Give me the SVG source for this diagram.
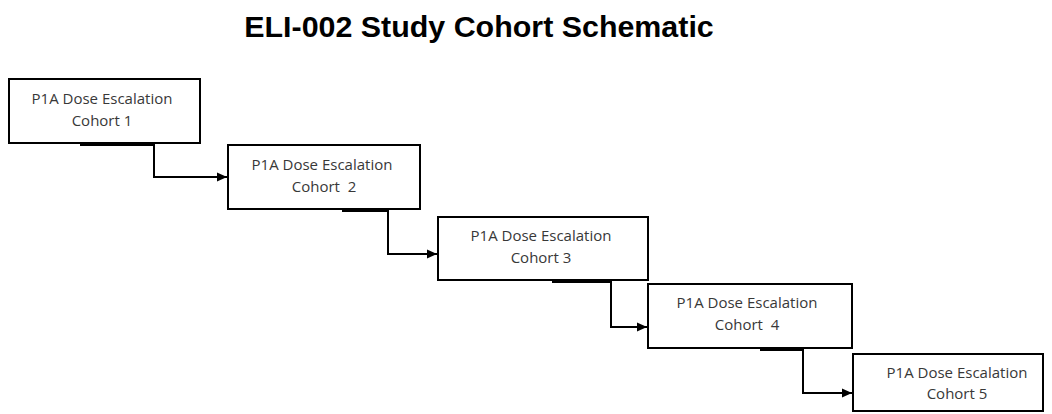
<svg xmlns="http://www.w3.org/2000/svg" width="1052" height="414" viewBox="0 0 1052 414">
  <style>
    .title { font-family: "Liberation Sans", Arial, sans-serif; font-weight: bold; font-size: 30.4px; fill: #000; }
    .box { fill: #fff; stroke: #000; stroke-width: 2; }
    .label { font-family: "Open Sans", "Noto Sans", sans-serif; font-size: 15px; fill: #383838; text-anchor: middle; }
    .conn { fill: none; stroke: #000; stroke-width: 2; }
    .stub { fill: none; stroke: #000; stroke-width: 4; }
  </style>
  <defs>
    <marker id="arrow" markerWidth="11" markerHeight="11" refX="10" refY="5.5" orient="auto" markerUnits="userSpaceOnUse">
      <path d="M0,1 L10,5.5 L0,10 Z" fill="#000"/>
    </marker>
  </defs>
  <rect width="1052" height="414" fill="#fff"/>
  <text class="title" x="479" y="37" text-anchor="middle">ELI-002 Study Cohort Schematic</text>

  <g id="connectors">
    <path class="conn" d="M154,143 V177 H227" marker-end="url(#arrow)"/>
    <path class="conn" d="M388,209 V254 H437" marker-end="url(#arrow)"/>
    <path class="conn" d="M611,280 V327 H647" marker-end="url(#arrow)"/>
    <path class="conn" d="M803,348 V393 H852" marker-end="url(#arrow)"/>
  </g>

  <g id="cohort1">
    <rect class="box" x="9" y="79" width="191" height="64"/>
    <line class="stub" x1="80" y1="144" x2="155" y2="144"/>
    <text class="label" x="102" y="104">P1A Dose Escalation</text>
    <text class="label" x="102" y="126">Cohort 1</text>
  </g>
  <g id="cohort2">
    <rect class="box" x="228" y="145" width="192" height="64"/>
    <line class="stub" x1="342" y1="210" x2="389" y2="210"/>
    <text class="label" x="322" y="170">P1A Dose Escalation</text>
    <text class="label" x="324" y="192" xml:space="preserve">Cohort  2</text>
  </g>
  <g id="cohort3">
    <rect class="box" x="438" y="217" width="210" height="63"/>
    <line class="stub" x1="552" y1="281" x2="612" y2="281"/>
    <text class="label" x="541" y="241">P1A Dose Escalation</text>
    <text class="label" x="541" y="263">Cohort 3</text>
  </g>
  <g id="cohort4">
    <rect class="box" x="648" y="284" width="204" height="64"/>
    <line class="stub" x1="760" y1="349" x2="804" y2="349"/>
    <text class="label" x="747" y="308">P1A Dose Escalation</text>
    <text class="label" x="747" y="330" xml:space="preserve">Cohort  4</text>
  </g>
  <g id="cohort5">
    <rect class="box" x="853" y="354" width="190" height="57"/>
    <text class="label" x="957" y="378">P1A Dose Escalation</text>
    <text class="label" x="957" y="399">Cohort 5</text>
  </g>
</svg>
